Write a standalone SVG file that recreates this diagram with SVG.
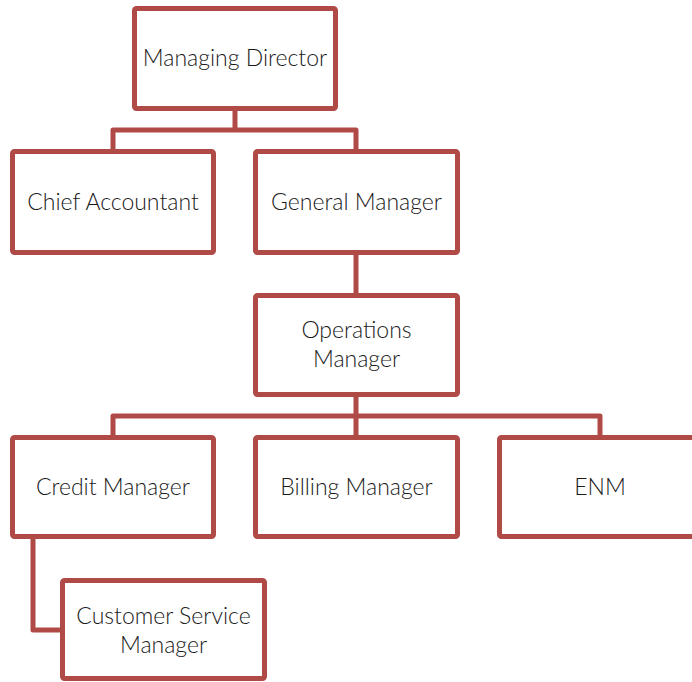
<svg xmlns="http://www.w3.org/2000/svg" width="692" height="682" viewBox="0 0 692 682">
<style>
.box{fill:#ffffff;stroke:#b04a47;stroke-width:5;}
.conn{fill:none;stroke:#b04a47;stroke-width:5;stroke-linejoin:round;}
.lbl{font-family:Lato,"Liberation Sans",sans-serif;font-weight:300;font-size:23px;fill:#1a1a1a;text-anchor:middle;}
</style>
<rect width="692" height="682" fill="#ffffff"/>
<g id="connectors">
<path class="conn" d="M235 108.5V130M113 151.5V130H356V151.5"/>
<path class="conn" d="M356 252.5V295.5"/>
<path class="conn" d="M356 394.5V437.5M113 437.5V416H600V437.5"/>
<path class="conn" d="M33 536.5V630H62.5"/>
</g>
<g id="managing-director"><rect class="box" x="134.5" y="8.5" width="201" height="100" rx="2"/><text class="lbl" x="235" y="66">Managing Director</text></g>
<g id="chief-accountant"><rect class="box" x="12.5" y="151.5" width="201" height="101" rx="2"/><text class="lbl" x="113" y="210">Chief Accountant</text></g>
<g id="general-manager"><rect class="box" x="255.5" y="151.5" width="202" height="101" rx="2"/><text class="lbl" x="356.5" y="210">General Manager</text></g>
<g id="operations-manager"><rect class="box" x="255.5" y="295.5" width="202" height="99" rx="2"/><text class="lbl" x="356.5" y="338">Operations</text><text class="lbl" x="356.5" y="367">Manager</text></g>
<g id="credit-manager"><rect class="box" x="12.5" y="437.5" width="201" height="99" rx="2"/><text class="lbl" x="113" y="495">Credit Manager</text></g>
<g id="billing-manager"><rect class="box" x="255.5" y="437.5" width="202" height="99" rx="2"/><text class="lbl" x="356.5" y="495">Billing Manager</text></g>
<g id="enm"><rect class="box" x="499.5" y="437.5" width="201" height="99" rx="2"/><text class="lbl" x="600" y="495">ENM</text></g>
<g id="customer-service-manager"><rect class="box" x="62.5" y="580.5" width="202" height="98" rx="2"/><text class="lbl" x="163.5" y="624">Customer Service</text><text class="lbl" x="163.5" y="653">Manager</text></g>
</svg>
